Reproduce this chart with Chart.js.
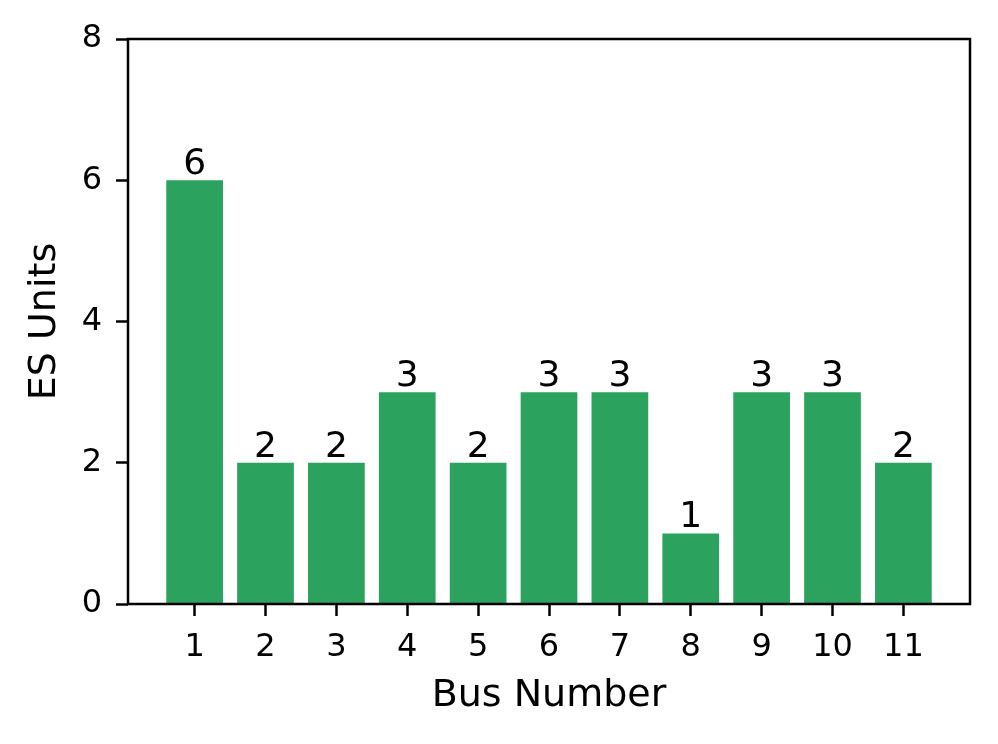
<!DOCTYPE html>
<html>
<head>
<meta charset="utf-8">
<script src="https://cdn.jsdelivr.net/npm/chart.js@4/dist/chart.umd.min.js"></script>
<style>
  html, body { margin: 0; padding: 0; background: #fff; }
  #wrap { width: 998px; height: 744px; }
</style>
</head>
<body>
<div id="wrap"><canvas id="esChart" width="998" height="744"></canvas></div>
<script>
// bus numbers and ES units per bus
const busNumbers = [1, 2, 3, 4, 5, 6, 7, 8, 9, 10, 11];
const esUnits = [6, 2, 2, 3, 2, 3, 3, 1, 3, 3, 2];
const yTicks = [0, 2, 4, 6, 8];

const barColor = '#2ca25f';
const font = 'DejaVu Sans';

// frame around the plot area + value labels above bars
const boxAndLabels = {
    id: 'boxAndLabels',
    afterDatasetsDraw(chart) {
        const { ctx } = chart;
        const meta = chart.getDatasetMeta(0);
        ctx.save();
        ctx.fillStyle = '#000';
        ctx.font = `36px "${font}"`;
        ctx.textAlign = 'center';
        ctx.textBaseline = 'alphabetic';
        meta.data.forEach((bar, i) => {
            ctx.fillText(String(esUnits[i]), bar.x, bar.y - 6);
        });
        ctx.restore();
    },
    afterDraw(chart) {
        const { ctx, chartArea } = chart;
        ctx.save();
        ctx.strokeStyle = '#000';
        ctx.lineWidth = 2.5;
        ctx.strokeRect(chartArea.left, chartArea.top,
            chartArea.right - chartArea.left, chartArea.bottom - chartArea.top);
        ctx.restore();
    }
};

new Chart(document.getElementById('esChart').getContext('2d'), {
    type: 'bar',
    data: {
        datasets: [{
            data: busNumbers.map((b, i) => ({ x: b, y: esUnits[i] })),
            backgroundColor: barColor,
            borderWidth: 0,
            barPercentage: 0.8,
            categoryPercentage: 1.0
        }]
    },
    options: {
        responsive: false,
        animation: false,
        devicePixelRatio: 1,
        layout: { padding: { top: 39, right: 28, left: 0, bottom: 0 } },
        plugins: {
            legend: { display: false },
            tooltip: { enabled: false }
        },
        scales: {
            x: {
                type: 'linear',
                min: 0.06,
                max: 11.94,
                offset: false,
                afterBuildTicks: (scale) => {
                    scale.ticks = busNumbers.map(v => ({ value: v }));
                },
                afterFit: (scale) => { scale.height = 140; },
                grid: {
                    display: true,
                    offset: false,
                    drawOnChartArea: false,
                    drawTicks: true,
                    tickLength: 12,
                    tickWidth: 2.5,
                    tickColor: '#000'
                },
                border: { display: false },
                ticks: {
                    color: '#000',
                    padding: 12,
                    maxRotation: 0,
                    autoSkip: false,
                    font: { family: font, size: 32 },
                    callback: (v) => String(v)
                },
                title: {
                    display: true,
                    text: 'Bus Number',
                    color: '#000',
                    font: { family: font, size: 38 },
                    padding: { top: 0, bottom: 25 }
                }
            },
            y: {
                min: 0,
                max: 8,
                afterBuildTicks: (scale) => {
                    scale.ticks = yTicks.map(v => ({ value: v }));
                },
                afterFit: (scale) => { scale.width = 128; },
                grid: {
                    display: true,
                    drawOnChartArea: false,
                    drawTicks: true,
                    tickLength: 12,
                    tickWidth: 2.5,
                    tickColor: '#000'
                },
                border: { display: false },
                ticks: {
                    color: '#000',
                    padding: 14,
                    font: { family: font, size: 32 }
                },
                title: {
                    display: true,
                    text: 'ES Units',
                    color: '#000',
                    font: { family: font, size: 38 },
                    padding: { top: 22, bottom: 0 }
                }
            }
        }
    },
    plugins: [boxAndLabels]
});
</script>
</body>
</html>
